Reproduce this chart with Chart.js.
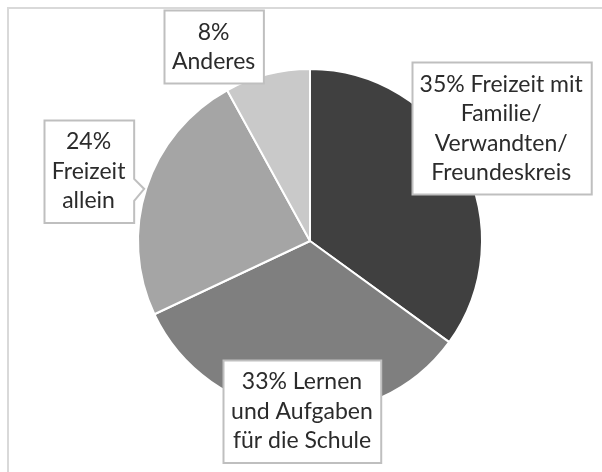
<!DOCTYPE html>
<html>
<head>
<meta charset="utf-8">
<script src="https://cdn.jsdelivr.net/npm/chart.js@4"></script>
<style>
  html,body{margin:0;padding:0;background:#fff;}
  #wrap{width:602px;height:472px;position:relative;}
</style>
</head>
<body>
<div id="wrap"><canvas id="pie" width="602" height="472"></canvas></div>
<script>
// data
const categories = [
  ['Freizeit mit', 'Familie/', 'Verwandten/', 'Freundeskreis'],
  ['Lernen', 'und Aufgaben', 'für die Schule'],
  ['Freizeit', 'allein'],
  ['Anderes']
];
const values = [35, 33, 24, 8];
const pctInline = [true, true, false, false];   // "35% Freizeit mit" vs "24%" on its own line
const colors = ['#404040', '#7f7f7f', '#a5a5a5', '#c9c9c9'];

// where the callout boxes sit: distance (x outer radius) and turn (deg) from the slice middle
const labelDist = [1.29, 0.99, 1.35, 1.26];
const labelTurn = [-3.5, -2.7, -0.5, -12];

const FONT = '23px Lato, "Open Sans", sans-serif';
const LINE_H = 29.5;

function labelLines(i){
  const pct = values[i] + '%';
  const l = categories[i].slice();
  if(pctInline[i]) l[0] = pct + ' ' + l[0]; else l.unshift(pct);
  return l;
}

const calloutPlugin = {
  id: 'callouts',
  beforeDraw(chart){
    const c = chart.ctx;
    c.save();
    c.strokeStyle = '#d9d9d9';
    c.lineWidth = 2;
    c.strokeRect(8, 8, chart.width + 20, chart.height + 20);
    c.restore();
  },
  afterDraw(chart){
    const c = chart.ctx;
    const arcs = chart.getDatasetMeta(0).data;
    c.save();
    c.font = FONT;
    arcs.forEach((arc, i) => {
      const p = arc.getProps(['x','y','startAngle','endAngle','outerRadius'], true);
      const mid = (p.startAngle + p.endAngle) / 2 + labelTurn[i] * Math.PI / 180;
      const cx = p.x + Math.cos(mid) * p.outerRadius * labelDist[i];
      const cy = p.y + Math.sin(mid) * p.outerRadius * labelDist[i];
      const lines = labelLines(i);
      const w = Math.max(...lines.map(t => c.measureText(t).width)) + 16;
      const h = lines.length * LINE_H + 14;
      const x0 = Math.round(cx - w/2) + .5, y0 = Math.round(cy - h/2) + .5;
      c.fillStyle = '#fff';
      c.strokeStyle = '#bfbfbf';
      c.lineWidth = 2;
      c.beginPath();
      c.moveTo(x0, y0);
      c.lineTo(x0 + w, y0);
      if(i === 2){
        // little pointer toward the slice
        const yb = y0 + h * 0.57;
        c.lineTo(x0 + w, yb);
        c.lineTo(x0 + w + 10, yb + 10);
        c.lineTo(x0 + w, yb + 22);
      }
      c.lineTo(x0 + w, y0 + h);
      c.lineTo(x0, y0 + h);
      c.closePath();
      c.fill();
      c.stroke();
      c.fillStyle = '#2b2b2b';
      c.textAlign = 'center';
      c.textBaseline = 'middle';
      const top = cy - (lines.length - 1) * LINE_H / 2;
      lines.forEach((t, k) => c.fillText(t, cx, top + k * LINE_H));
    });
    c.restore();
  }
};

new Chart(document.getElementById('pie'), {
  type: 'pie',
  data: {
    labels: categories.map(l => l.join(' ')),
    datasets: [{ data: values, backgroundColor: colors, borderColor: '#ffffff', borderWidth: 2 }]
  },
  options: {
    responsive: false,
    animation: false,
    layout: { padding: { left: 137, right: 119, top: 67, bottom: 57 } },
    plugins: { legend: { display: false }, tooltip: { enabled: false } }
  },
  plugins: [calloutPlugin]
});
</script>
</body>
</html>
